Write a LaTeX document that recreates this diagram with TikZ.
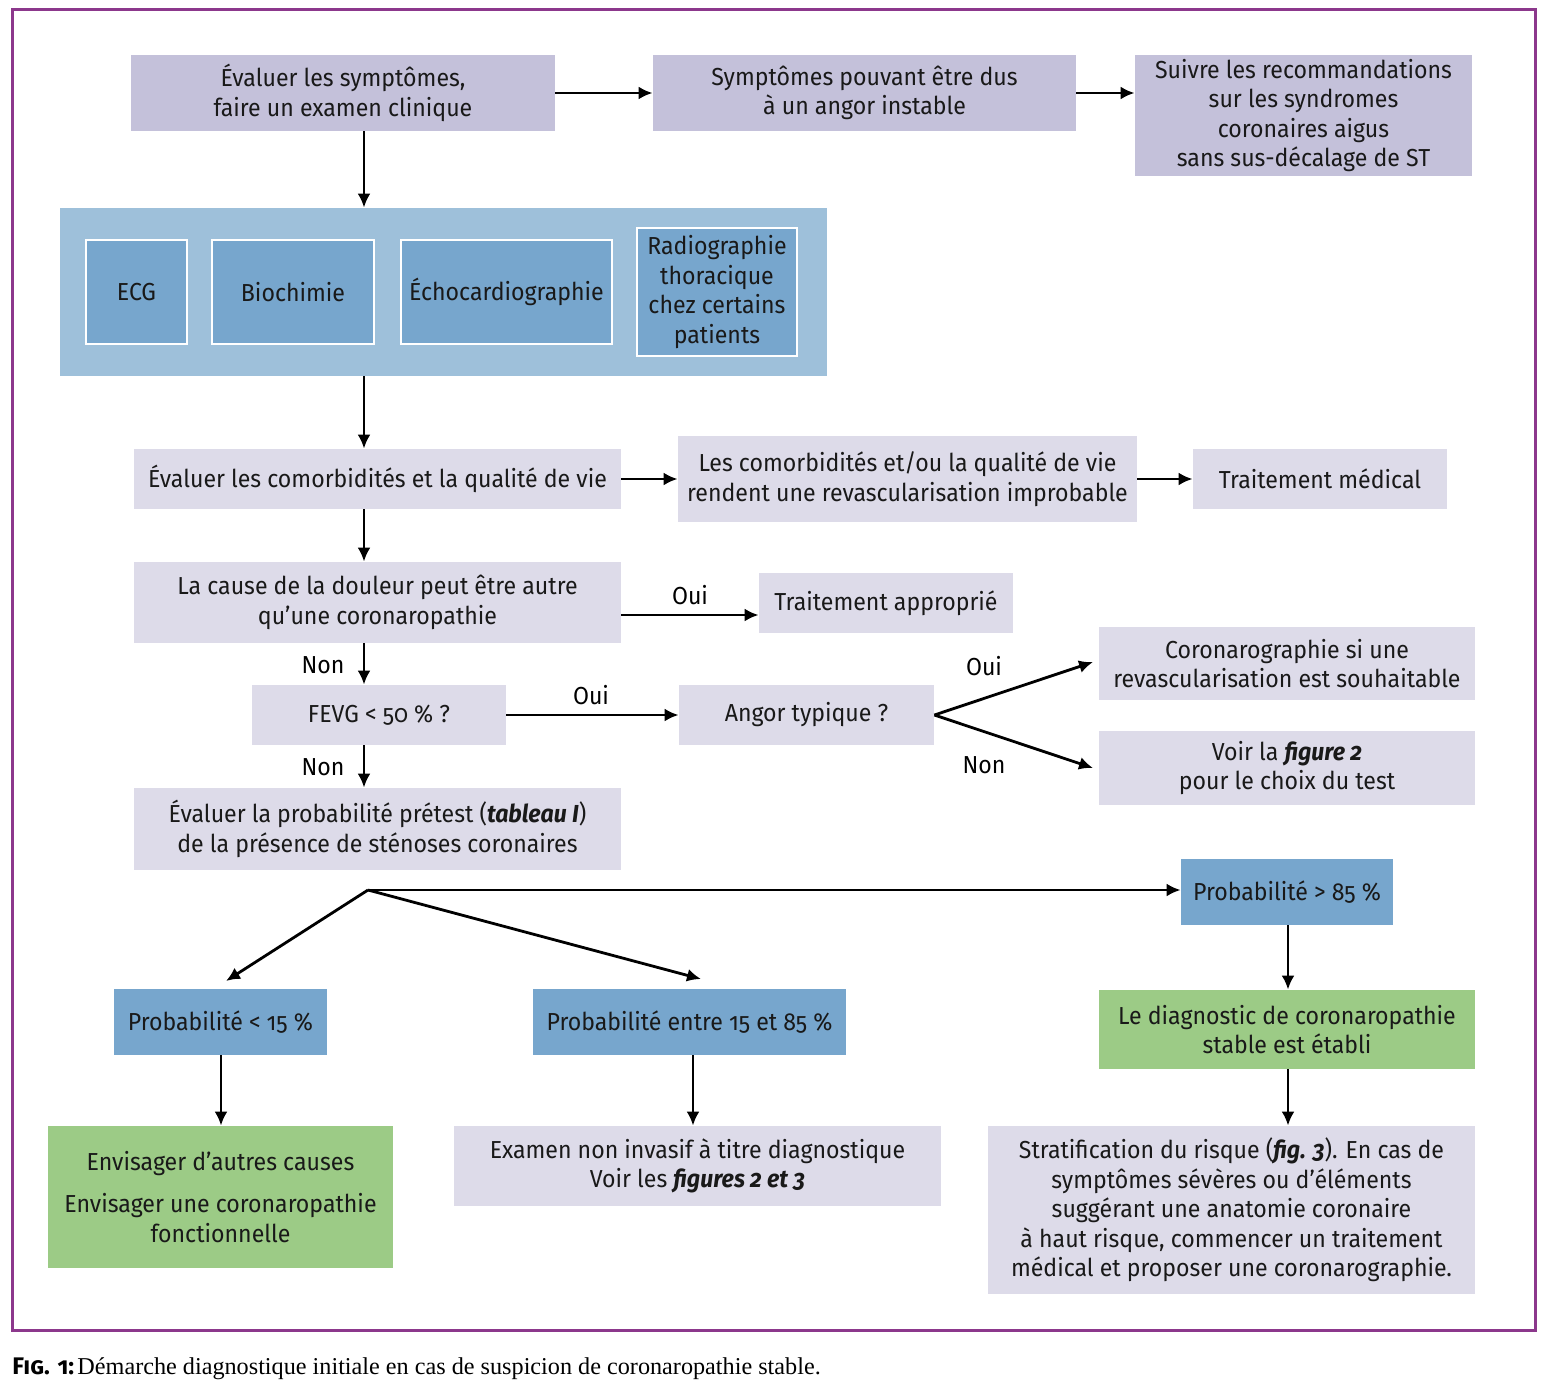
\documentclass[tikz,border=0pt]{standalone}
\usepackage{fontspec}
\setmainfont{Fira Sans}[Numbers=OldStyle, FakeStretch=0.94]
\newfontfamily\capserif{Liberation Serif}
\newfontfamily\capsans{Fira Sans}[Numbers=OldStyle]
\usetikzlibrary{arrows.meta}
\definecolor{lavd}{RGB}{196,193,218}
\definecolor{lavl}{RGB}{221,219,233}
\definecolor{bluep}{RGB}{158,192,218}
\definecolor{bluei}{RGB}{119,166,205}
\definecolor{greenb}{RGB}{156,203,134}
\definecolor{purp}{RGB}{140,56,140}
\newcommand\bx[7]{\node[#6, minimum width={(#4-#2)*0.5pt}, minimum height={(#5-#3)*0.5pt}] (#1) at ({(#2+#4)/2},{(#3+#5)/2}) {#7};}
\tikzset{
  base/.style={inner sep=0pt, align=center, font=\fontsize{12.3pt}{14.8pt}\selectfont, text=black!90},
  dark/.style={base, fill=lavd},
  light/.style={base, fill=lavl},
  panel/.style={base, fill=bluep},
  inner/.style={base, fill=bluei, draw=white, line width=1pt},
  prob/.style={base, fill=bluei},
  green/.style={base, fill=greenb},
  arr/.style={line width=1.4pt, -{Latex[length=7pt,width=6.5pt]}},
  lbl/.style={inner sep=0pt, font=\fontsize{12.3pt}{14.8pt}\selectfont},
}
\begin{document}
\begin{tikzpicture}[x=0.5pt,y=-0.5pt]
\useasboundingbox (0,0) rectangle (1550,1396);
\fill[white] (0,0) rectangle (1550,1396);
\draw[purp, line width=1.5pt] (12,10) rectangle (1535,1330);
% top row
\bx{a}{131}{55}{555}{131}{dark}{Évaluer les symptômes,\\faire un examen clinique}
\bx{b}{653}{55}{1076}{131}{dark}{Symptômes pouvant être dus\\à un angor instable}
\bx{c}{1135}{55}{1472}{176}{dark}{Suivre les recommandations\\sur les syndromes\\coronaires aigus\\sans sus-décalage de ST}
% panel
\bx{pan}{60}{208}{827}{376}{panel}{}
\bx{ecg}{86}{240}{187}{344}{inner}{ECG}
\bx{bio}{212}{240}{374}{344}{inner}{Biochimie}
\bx{echo}{401}{240}{612}{344}{inner}{Échocardiographie}
\bx{radio}{637}{228}{797}{356}{inner}{Radiographie\\thoracique\\chez certains\\patients}
% comorbidities
\bx{com}{134}{449}{621}{509}{light}{Évaluer les comorbidités et la qualité de vie}
\bx{comr}{678}{436}{1137}{522}{light}{Les comorbidités et/ou la qualité de vie\\rendent une revascularisation improbable}
\bx{tm}{1193}{449}{1447}{509}{light}{Traitement médical}
% cause
\bx{cause}{134}{562}{621}{643}{light}{La cause de la douleur peut être autre\\qu’une coronaropathie}
\bx{ta}{759}{573}{1013}{633}{light}{Traitement approprié}
% FEVG
\bx{fevg}{252}{685}{506}{745}{light}{FEVG < 50 \% ?}
\bx{angor}{679}{685}{934}{745}{light}{Angor typique ?}
\bx{coro}{1099}{627}{1475}{700}{light}{Coronarographie si une\\revascularisation est souhaitable}
\bx{voir}{1099}{731}{1475}{805}{light}{Voir la \textbf{\textit{figure 2}}\\pour le choix du test}
% probability
\bx{evp}{134}{788}{621}{870}{light}{Évaluer la probabilité prétest (\textbf{\textit{tableau I}})\\de la présence de sténoses coronaires}
\bx{p85}{1181}{859}{1393}{925}{prob}{Probabilité > 85 \%}
\bx{p15}{114}{989}{327}{1055}{prob}{Probabilité < 15 \%}
\bx{pmid}{533}{989}{846}{1055}{prob}{Probabilité entre 15 et 85 \%}
\bx{diag}{1099}{990}{1475}{1069}{green}{Le diagnostic de coronaropathie\\stable est établi}
\bx{env}{48}{1126}{393}{1268}{green}{Envisager d’autres causes\\[6.5pt]Envisager une coronaropathie\\fonctionnelle}
\bx{exam}{454}{1126}{941}{1206}{light}{Examen non invasif à titre diagnostique\\Voir les \textbf{\textit{figures 2 et 3}}}
\bx{strat}{988}{1126}{1475}{1294}{light}{Stratification du risque (\textbf{\textit{fig. 3}}). En cas de\\symptômes sévères ou d’éléments\\suggérant une anatomie coronaire\\à haut risque, commencer un traitement\\médical et proposer une coronarographie.}
% connectors
\draw[arr] (a.east) -- (b.west);
\draw[arr] (b.east) -- (b.east -| c.west);
\draw[arr] (a.south -| 364,0) -- (pan.north -| 364,0);
\draw[arr] (pan.south -| 364,0) -- (com.north -| 364,0);
\draw[arr] (com.east) -- (comr.west);
\draw[arr] (comr.east) -- (tm.west);
\draw[arr] (com.south -| 364,0) -- (cause.north -| 364,0);
\draw[arr] (cause.east |- 0,615) -- (ta.west |- 0,615);
\node[lbl] (oui1) at (690,595) {Oui};
\draw[arr] (cause.south -| 364,0) -- (fevg.north -| 364,0);
\node[lbl] (non1) at (323,665) {Non};
\draw[arr] (fevg.east) -- (angor.west);
\node[lbl] (oui2) at (591,695) {Oui};
\coordinate (o1) at (1093,662);
\coordinate (o2) at (1093,768);
\draw[arr] (angor.east) -- (o1);
\draw[arr] (angor.east) -- (o2);
\node[lbl] (oui3) at (984,666) {Oui};
\node[lbl] (non3) at (984,765) {Non};
\draw[arr] (fevg.south -| 364,0) -- (evp.north -| 364,0);
\node[lbl] (non2) at (323,767) {Non};
\coordinate (bp) at (368,890);
\coordinate (e15) at (226,981);
\coordinate (emid) at (701,979);
\draw[arr] (bp) -- (p85.west |- bp);
\draw[arr] (bp) -- (e15);
\draw[arr] (bp) -- (emid);
\draw[arr] (p85.south -| 1288,0) -- (diag.north -| 1288,0);
\draw[arr] (p15.south -| 221,0) -- (env.north -| 221,0);
\draw[arr] (pmid.south -| 693,0) -- (exam.north -| 693,0);
\draw[arr] (diag.south -| 1288,0) -- (strat.north -| 1288,0);
% caption
\node[anchor=base west, inner sep=0pt] (cap) at (12,1374) {{\capsans\fontsize{12pt}{14pt}\selectfont\bfseries\addfontfeatures{Letters=SmallCaps}Fig. 1:}\,{\capserif\fontsize{12.1pt}{14pt}\selectfont Démarche diagnostique initiale en cas de suspicion de coronaropathie stable.}};
\end{tikzpicture}
\end{document}
